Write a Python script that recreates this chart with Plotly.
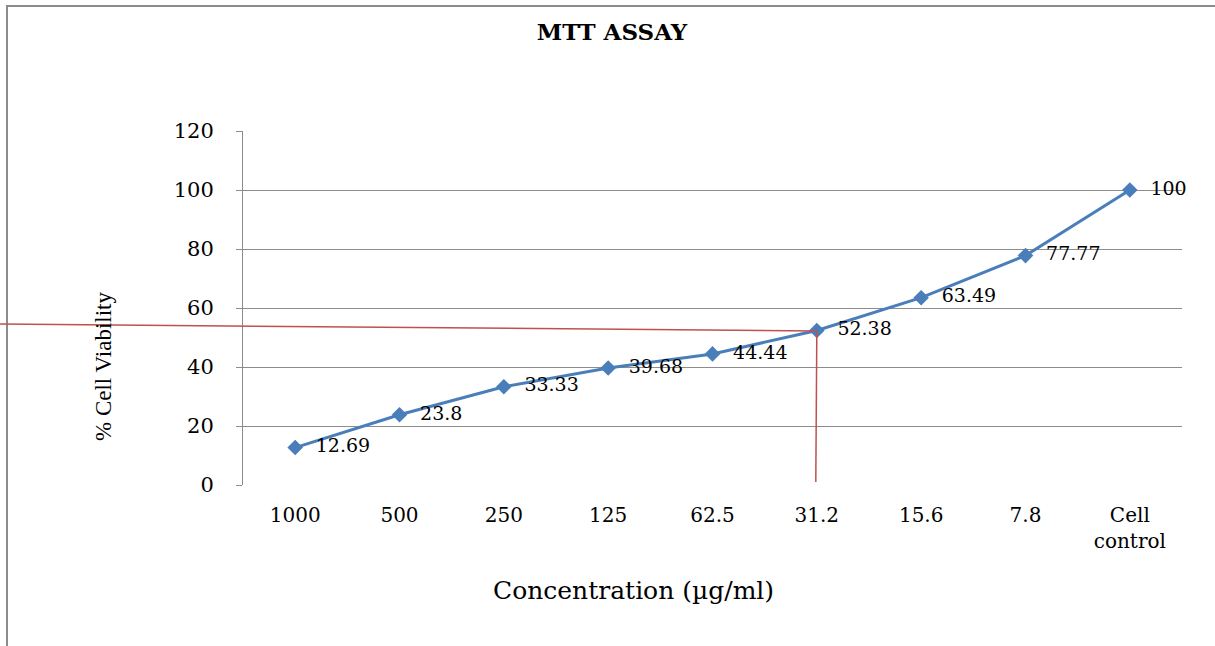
import plotly.graph_objects as go

# ---- data ----
categories = ["1000", "500", "250", "125", "62.5", "31.2", "15.6", "7.8", "Cell<br>control"]
viability = [12.69, 23.8, 33.33, 39.68, 44.44, 52.38, 63.49, 77.77, 100]
point_labels = ["12.69", "23.8", "33.33", "39.68", "44.44", "52.38", "63.49", "77.77", "100"]

# IC50 guide lines
ic50_index = 5            # category "31.2"
guide_y_left = 54.6       # value where the red line leaves the left edge
guide_y_right = 52.2      # value where it meets the vertical line
guide_y_bottom = 1.0      # bottom end of the vertical guide

# ---- layout geometry (pixels) ----
W, H = 1215, 646
L, R, T, B = 243, 33, 131, 161
pw, ph = W - L - R, H - T - B

def px_to_paper_x(px):
    return (px - L) / pw

def px_to_paper_y(py):
    return (H - B - py) / ph

n = len(categories)
cat_paper_x = (ic50_index + 0.5) / n

fig = go.Figure()
fig.add_trace(go.Scatter(
    x=list(range(n)), y=viability,
    mode="lines+markers+text",
    line=dict(color="#4A7EBB", width=3),
    marker=dict(symbol="diamond", size=12, color="#4A7EBB"),
    text=["  " + t for t in point_labels],
    textposition="middle right",
    textfont=dict(family="DejaVu Serif", size=19, color="#000000"),
    cliponaxis=False,
    showlegend=False,
))

shapes = [
    # outer chart frame
    dict(type="rect", xref="paper", yref="paper",
         x0=px_to_paper_x(7), x1=px_to_paper_x(1225),
         y0=px_to_paper_y(660), y1=px_to_paper_y(6),
         line=dict(color="#8C8C8C", width=2), fillcolor="rgba(0,0,0,0)", layer="below"),
    # red horizontal guide
    dict(type="line", xref="paper", yref="y",
         x0=px_to_paper_x(0), x1=cat_paper_x,
         y0=guide_y_left, y1=guide_y_right,
         line=dict(color="#C0504D", width=1.5)),
    # red vertical guide
    dict(type="line", xref="x", yref="y",
         x0=ic50_index, x1=ic50_index - 0.01,
         y0=guide_y_right, y1=guide_y_bottom,
         line=dict(color="#C0504D", width=1.5)),
]

fig.update_layout(
    width=W, height=H,
    margin=dict(l=L, r=R, t=T, b=B),
    paper_bgcolor="white", plot_bgcolor="white",
    title=dict(text="<b>MTT ASSAY</b>", x=612 / W, xanchor="center",
               y=1 - 32 / H, yanchor="middle",
               font=dict(family="DejaVu Serif", size=23, color="#000000")),
    shapes=shapes,
    annotations=[
        dict(text="% Cell Viability", textangle=-90, xref="paper", yref="paper",
             x=px_to_paper_x(103), y=px_to_paper_y(367), showarrow=False,
             xanchor="center", yanchor="middle",
             font=dict(family="Liberation Serif", size=23, color="#000000")),
        dict(text="Concentration (µg/ml)", xref="paper", yref="paper",
             x=px_to_paper_x(633), y=px_to_paper_y(590), showarrow=False,
             xanchor="center", yanchor="middle",
             font=dict(family="DejaVu Serif", size=25, color="#000000")),
    ],
)

fig.update_xaxes(
    range=[-0.5, n - 0.5], tickmode="array",
    tickvals=list(range(n)), ticktext=categories,
    showgrid=False, zeroline=False, showline=False,
    ticks="", tickfont=dict(family="DejaVu Serif", size=20, color="#000000"),
    ticklabelstandoff=16,
)
fig.update_yaxes(
    range=[0, 120], dtick=20, tick0=0,
    showgrid=True, gridcolor="#8C8C8C", gridwidth=1,
    zeroline=False, showline=True, linecolor="#8C8C8C", linewidth=1,
    ticks="outside", ticklen=6, tickcolor="#8C8C8C",
    tickfont=dict(family="DejaVu Serif", size=21, color="#000000"),
    ticklabelstandoff=18,
)

fig.write_html("out.html",
               config={"displayModeBar": False},
               post_script="document.body.style.margin='0px';document.body.style.padding='0px';")
